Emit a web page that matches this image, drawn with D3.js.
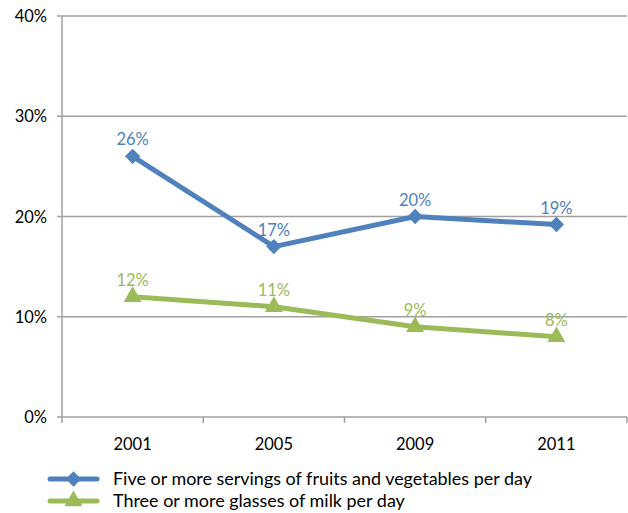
<!DOCTYPE html>
<html><head><meta charset="utf-8">
<script src="https://cdn.jsdelivr.net/npm/d3@7"></script>
<style>body{margin:0;background:#fff}svg{display:block}text{font-family:Lato,"Open Sans",sans-serif}</style>
</head><body><svg id="c" width="628" height="513"></svg>
<script>
const categories = ["2001","2005","2009","2011"];
const fruitVeg = [26,17,20,19.2];
const milk = [12,11,9,8];
const fruitLabels = ["26%","17%","20%","19%"];
const milkLabels = ["12%","11%","9%","8%"];
const yTicks = [0,10,20,30,40];
const seriesNames = ["Five or more servings of fruits and vegetables per day","Three or more glasses of milk per day"];
const colors = ["#4F81BD","#9BBB59"];

const svg = d3.select("#c");
const L=62,R=627,T=16,B=417;
const x = d3.scaleBand().domain(categories).range([L,R]);
const y = d3.scaleLinear().domain([0,40]).range([B,T]);

svg.append("g").selectAll("line").data(yTicks).join("line")
  .attr("x1",L-5).attr("x2",R).attr("y1",d=>y(d)).attr("y2",d=>y(d))
  .attr("stroke","#A0A0A0").attr("stroke-width",1.5);
svg.append("line").attr("x1",L).attr("x2",L).attr("y1",T).attr("y2",B+6).attr("stroke","#A0A0A0").attr("stroke-width",1.5);
const bounds = categories.map(c=>x(c)).concat([R]);
svg.append("g").selectAll("line").data(bounds.slice(1)).join("line")
  .attr("x1",d=>d).attr("x2",d=>d).attr("y1",B).attr("y2",B+6).attr("stroke","#A0A0A0").attr("stroke-width",1.5);
svg.append("g").selectAll("text").data(yTicks).join("text")
  .attr("x",47).attr("y",d=>y(d)+6).attr("text-anchor","end").attr("font-size",16.5).attr("fill","#000")
  .text(d=>d+"%");
svg.append("g").selectAll("text").data(categories).join("text")
  .attr("x",d=>x(d)+x.bandwidth()/2).attr("y",450).attr("text-anchor","middle").attr("font-size",16.5).attr("fill","#000")
  .text(d=>d);

const cx = d=>x(d)+x.bandwidth()/2;
const line = d3.line().x(d=>cx(d.c)).y(d=>y(d.v));
const diamond = d3.symbol().type(d3.symbolDiamond2).size(150);
const tri = d3.symbol().type(d3.symbolTriangle).size(140);

function drawSeries(vals,labels,color,sym){
  const data = categories.map((c,i)=>({c,v:vals[i],l:labels[i]}));
  svg.append("path").datum(data).attr("d",line).attr("fill","none").attr("stroke",color).attr("stroke-width",5).attr("stroke-linejoin","round");
  svg.append("g").selectAll("path").data(data).join("path")
    .attr("transform",d=>`translate(${cx(d.c)},${y(d.v)})`).attr("d",sym).attr("fill",color);
  svg.append("g").selectAll("text").data(data).join("text")
    .attr("x",d=>cx(d.c)).attr("y",d=>y(d.v)-11).attr("text-anchor","middle").attr("font-size",16.5).attr("fill",color)
    .text(d=>d.l);
}
drawSeries(fruitVeg,fruitLabels,colors[0],diamond);
drawSeries(milk,milkLabels,colors[1],tri);

const legY=[479,501];
const syms=[diamond,tri];
const legTexts=[];
seriesNames.forEach((n,i)=>{
  svg.append("line").attr("x1",50).attr("x2",97).attr("y1",legY[i]).attr("y2",legY[i]).attr("stroke",colors[i]).attr("stroke-width",5).attr("stroke-linecap","round");
  svg.append("path").attr("transform",`translate(73.5,${legY[i]})`).attr("d",syms[i]).attr("fill",colors[i]);
  legTexts.push(svg.append("text").attr("x",113).attr("y",legY[i]+6).attr("font-size",16).attr("fill","#000").text(n));
});
// fit first legend entry to the reference width (113 → 532)
const w = legTexts[0].node().getComputedTextLength();
const fs = Math.max(15, Math.min(19, 16*419/w));
legTexts.forEach(t=>t.attr("font-size",fs));
</script></body></html>
